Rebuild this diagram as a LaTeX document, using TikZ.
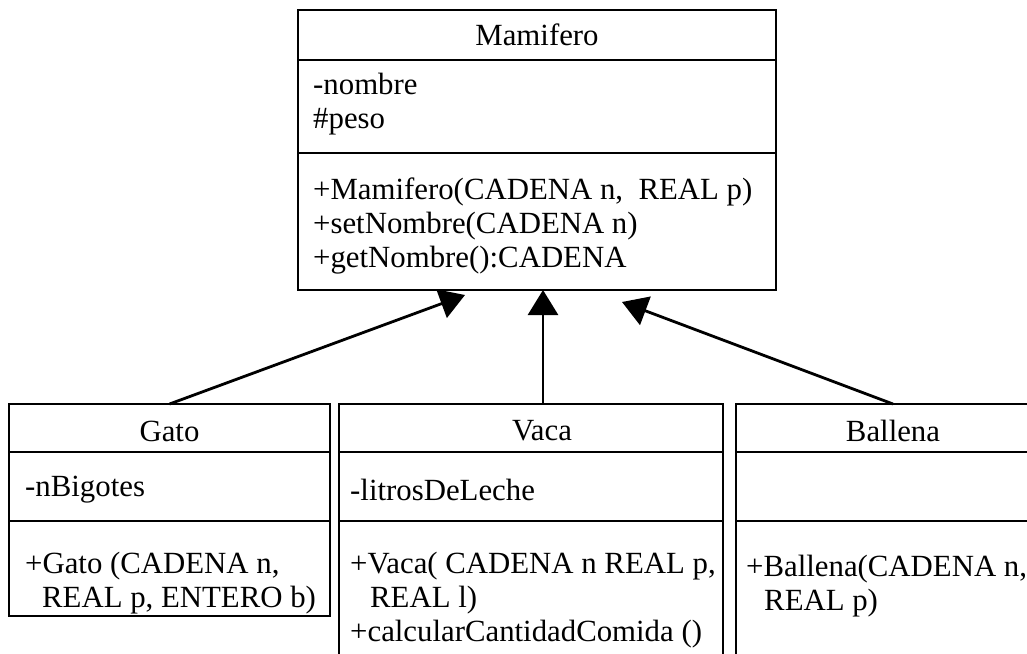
\documentclass[tikz,border=0pt]{standalone}
\usepackage{fontspec}
\setmainfont{Liberation Serif}
\usetikzlibrary{arrows.meta}

\tikzset{
	classbox/.style={draw=black, line width=1.5pt, anchor=north west, inner sep=0pt, outer sep=0pt},
	divider/.style={black, line width=1.5pt},
	classname/.style={inner sep=0pt, font=\fontsize{30.8}{34}\selectfont},
	member/.style={anchor=west, align=left, inner sep=0pt, font=\fontsize{30.8}{34}\selectfont},
	inherit/.style={black, line width=2.8pt, -{Triangle[length=25pt, width=30pt]}}
}

\begin{document}
\begin{tikzpicture}[x=1pt, y=-1pt]
		\clip (0,0) rectangle (1027,653);

		% superclass
		\node[classbox, minimum width=478pt, minimum height=280pt] (mamifero) at (298,10) {};
		\draw[divider] (298,60) -- (776,60);
		\draw[divider] (298,153) -- (776,153);
		\node[classname] (mamiferoname) at (537,35) {Mamifero};
		\node[member] (mamiferoattr) at (313,104) {-nombre\\\#peso};
		\node[member] (mamiferoops) at (313,226) {+Mamifero(CADENA n,\ \ REAL p)\\+setNombre(CADENA n)\\+getNombre():CADENA};

		% subclasses
		\node[classbox, minimum width=321pt, minimum height=212pt] (gato) at (9,404) {};
		\draw[divider] (9,452) -- (330,452);
		\draw[divider] (9,521) -- (330,521);
		\node[classname] (gatoname) at (169.5,431) {Gato};
		\node[member] (gatoattr) at (25,490) {-nBigotes};
		\node[member] (gatoops) at (25,583) {+Gato (CADENA n,\\\hspace*{17pt}REAL p, ENTERO b)};

		\node[classbox, minimum width=384pt, minimum height=290pt] (vaca) at (339,404) {};
		\draw[divider] (339,452) -- (723,452);
		\draw[divider] (339,521) -- (723,521);
		\node[classname] (vacaname) at (542,431) {Vaca};
		\node[member] (vacaattr) at (350,490) {-litrosDeLeche};
		\node[member] (vacaops) at (350,600) {+Vaca( CADENA n REAL p,\\\hspace*{20pt}REAL l)\\+calcularCantidadComida ()};

		\node[classbox, minimum width=314pt, minimum height=290pt] (ballena) at (736,404) {};
		\draw[divider] (736,452) -- (1050,452);
		\draw[divider] (736,521) -- (1050,521);
		\node[classname] (ballenaname) at (893,431) {Ballena};
		\node[member] (ballenaops) at (746,586) {+Ballena(CADENA n,\\\hspace*{18pt}REAL p)};

		% inheritance
		\coordinate (tipgato) at (465,295);
		\coordinate (tipvaca) at (543,290);
		\coordinate (tipballena) at (622,302);
		\draw[inherit] (gato.north) -- (tipgato);
		\draw[inherit] (tipvaca |- vaca.north) -- (tipvaca);
		\draw[inherit] (ballena.north) -- (tipballena);
	\end{tikzpicture}
\end{document}
